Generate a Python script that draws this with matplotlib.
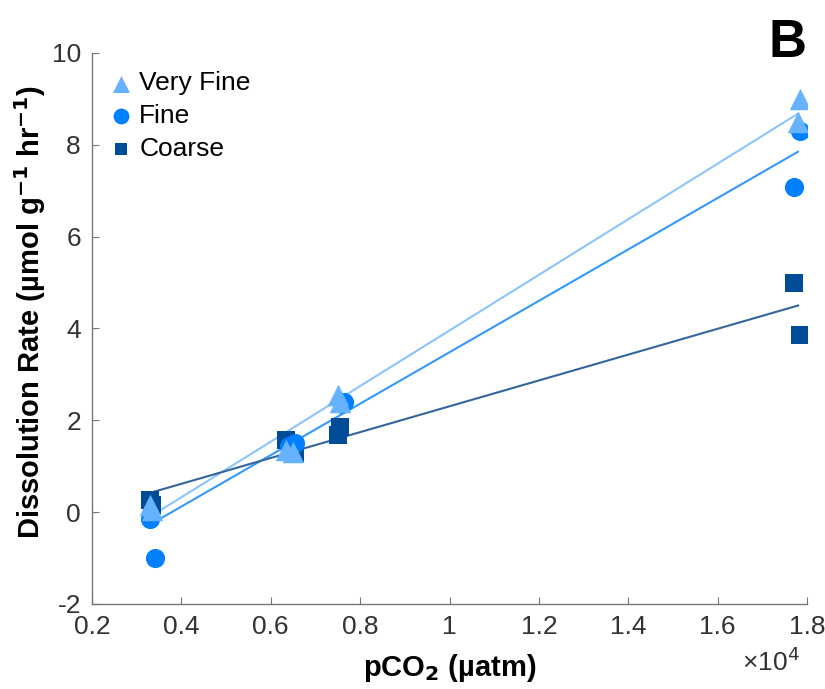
import matplotlib
matplotlib.use("Agg")
import matplotlib.pyplot as plt
import numpy as np

plt.rcParams['font.family'] = ['Liberation Sans', 'DejaVu Sans']
plt.rcParams['axes.unicode_minus'] = False

# pCO2 (uatm) and dissolution rate (umol g^-1 hr^-1)
vf_x = [3300, 3350, 6350, 6500, 7500, 7550, 17800, 17850]
vf_y = [0.15, 0.05, 1.35, 1.30, 2.55, 2.40, 8.50, 9.00]
f_x = [3300, 3400, 6400, 6550, 7600, 7650, 17700, 17850]
f_y = [-0.15, -1.00, 1.45, 1.50, 2.35, 2.40, 7.08, 8.30]
c_x = [3300, 3350, 6350, 6550, 7500, 7550, 17700, 17850]
c_y = [0.26, 0.15, 1.57, 1.29, 1.67, 1.85, 5.00, 3.85]

# regression line end points
fit_x = [3300, 17800]
vf_fit = [-0.10, 8.68]
f_fit = [-0.27, 7.85]
c_fit = [0.42, 4.50]

labels = ['Very Fine', 'Fine', 'Coarse']
xticks = [2000, 4000, 6000, 8000, 10000, 12000, 14000, 16000, 18000]
xticklabels = ['0.2', '0.4', '0.6', '0.8', '1', '1.2', '1.4', '1.6', '1.8']
yticks = [-2, 0, 2, 4, 6, 8, 10]

c_vf = '#66B2FF'
c_f = '#0080FF'
c_c = '#004C99'

fig = plt.figure(figsize=(8.25, 6.89), dpi=100)
ax = fig.add_axes([0.1115, 0.1234, 0.8667, 0.7997])

ax.plot(fit_x, vf_fit, color='#8CC4FF', lw=1.5, zorder=2)
ax.plot(fit_x, f_fit, color='#3399FF', lw=1.5, zorder=2)
ax.plot(fit_x, c_fit, color='#33669E', lw=1.5, zorder=2)

ax.scatter(c_x, c_y, marker='s', s=155, color=c_c, label=labels[2], zorder=3, linewidths=0)
ax.scatter(f_x, f_y, marker='o', s=190, color=c_f, label=labels[1], zorder=3, linewidths=0)
ax.scatter(vf_x, vf_y, marker='^', s=240, color=c_vf, label=labels[0], zorder=3, linewidths=0)

ax.set_xlim(2000, 18000)
ax.set_ylim(-2, 10)
ax.set_xticks(xticks)
ax.set_xticklabels(xticklabels)
ax.set_yticks(yticks)
ax.tick_params(direction='in', length=5, width=0.8, labelsize=19,
               colors='#777777', labelcolor='#333333')
ax.tick_params(axis='x', pad=8)
ax.tick_params(axis='y', pad=8)
for s in ['top', 'right']:
    ax.spines[s].set_visible(False)
for s in ['left', 'bottom']:
    ax.spines[s].set_color('#777777')
    ax.spines[s].set_linewidth(1.0)

ax.set_xlabel('pCO$_\\mathbf{2}$ (µatm)', fontsize=21, fontweight='bold')
ax.xaxis.set_label_coords(0.5, -0.087)
ax.xaxis.label.set_va('top')
ax.set_ylabel('Dissolution Rate (µmol g$^\\mathbf{-1}$ hr$^\\mathbf{-1}$)', fontsize=21,
              fontweight='bold')
ax.yaxis.set_label_coords(-0.062, 0.53)

fig.text(0.900, 0.026, '×10$^4$', fontsize=19, color='#333333', ha='left', va='baseline')
fig.text(0.955, 0.917, 'B', fontsize=38, fontweight='bold', ha='center')

handles, lbls = ax.get_legend_handles_labels()
order = [2, 1, 0]
leg = ax.legend([handles[i] for i in order], [lbls[i] for i in order],
                loc='upper left', frameon=False, fontsize=19,
                handlelength=1.0, handletextpad=0.2, labelspacing=0.33, borderaxespad=0.3,
                bbox_to_anchor=(-0.004, 1.0))
for h, sz in zip(leg.legend_handles, [150, 130, 75]):
    h.set_sizes([sz])

fig.savefig('out.png', dpi=100)
